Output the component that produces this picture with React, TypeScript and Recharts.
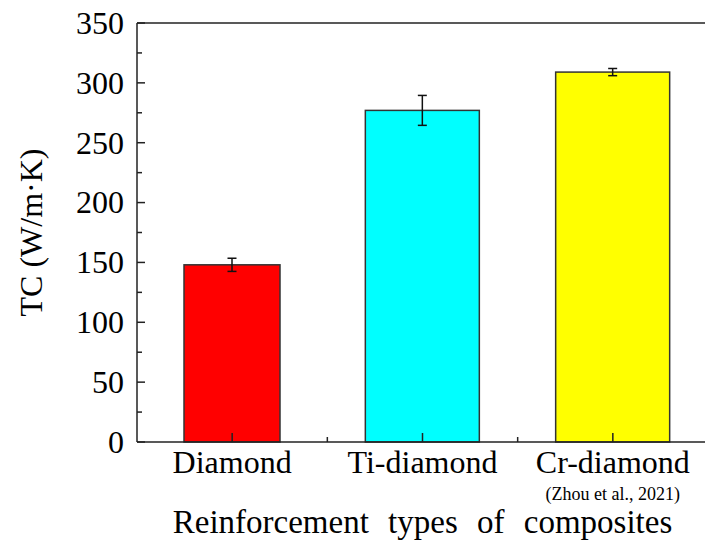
import React from 'react';
import { BarChart, Bar, XAxis, YAxis, Cell, ErrorBar, ReferenceLine } from 'recharts';

const categories = ['Diamond', 'Ti-diamond', 'Cr-diamond'];
const notes = ['', '', '(Zhou et al., 2021)'];
const tcValues = [148, 277, 309];
const tcErrors = [5.5, 12.5, 3];
const yTicks = [0, 25, 50, 75, 100, 125, 150, 175, 200, 225, 250, 275, 300, 325, 350];

const colors = ['#FF0000', '#00FFFF', '#FFFF00'];
const barWidths = [96, 114, 114];

const FONT = "'Liberation Serif', 'DejaVu Serif', serif";
const CHART_W = 720;
const CHART_H = 540;
const MARGIN = { top: 23, right: 12, bottom: 0, left: 0 };
const Y_AXIS_W = 137;
const X_AXIS_H = 98;
const PLOT_W = CHART_W - MARGIN.left - MARGIN.right - Y_AXIS_W;
const BAND = PLOT_W / categories.length;
const AXIS_COLOR = '#222';

const data = categories.map((name, i) => ({
  name,
  note: notes[i],
  tc: tcValues[i],
  err: tcErrors[i]
}));

const Y_TICK_MARGIN = 13;

const YTick = (props: any) => {
  const { x, y, payload } = props;
  const major = payload.value % 50 === 0;
  const axisX = x + Y_TICK_MARGIN;
  return (
    <g>
      <line x1={axisX} x2={axisX + (major ? 8 : 5)} y1={y} y2={y} stroke={AXIS_COLOR} strokeWidth={1.5} />
      {major && (
        <text x={x} y={y} dy="0.34em" textAnchor="end" fontFamily={FONT} fontSize={32} fill="#000">
          {payload.value}
        </text>
      )}
    </g>
  );
};

const XTick = (props: any) => {
  const { x, y, payload, index } = props;
  const note = notes[index];
  return (
    <g>
      <line x1={x} x2={x} y1={y} y2={y - 9} stroke={AXIS_COLOR} strokeWidth={1.5} />
      {index < categories.length - 1 && (
        <line x1={x + BAND / 2} x2={x + BAND / 2} y1={y} y2={y - 5} stroke={AXIS_COLOR} strokeWidth={1.5} />
      )}
      <text x={x} y={y + 31} textAnchor="middle" fontFamily={FONT} fontSize={32} fill="#000">
        {payload.value}
      </text>
      {note && (
        <text x={x} y={y + 58} textAnchor="middle" fontFamily={FONT} fontSize={18} fill="#000">
          {note}
        </text>
      )}
    </g>
  );
};

const BarShape = (props: any) => {
  const { x, y, width, height, fill, index } = props;
  const w = barWidths[index];
  const cx = x + width / 2;
  return (
    <rect x={cx - w / 2} y={y} width={w} height={height} fill={fill} stroke="#333" strokeWidth={1.5} />
  );
};

const YLabel = (props: any) => {
  const { viewBox } = props;
  const cx = viewBox.x + 31;
  const cy = viewBox.y + viewBox.height / 2;
  return (
    <text
      x={cx}
      y={cy}
      dy="0.35em"
      transform={`rotate(-90, ${cx}, ${cy})`}
      textAnchor="middle"
      fontFamily={FONT}
      fontSize={32}
      fill="#000"
    >
      TC (W/m·K)
    </text>
  );
};

const XLabel = (props: any) => {
  const { viewBox } = props;
  const cx = viewBox.x + viewBox.width / 2;
  return (
    <text
      x={cx}
      y={viewBox.y + 91}
      textAnchor="middle"
      fontFamily={FONT}
      fontSize={33}
      fill="#000"
      style={{ wordSpacing: '11px' }}
    >
      Reinforcement types of composites
    </text>
  );
};

export default function App() {
  return (
    <div style={{ position: 'absolute', left: 0, top: 0, width: 705, height: 540, overflow: 'hidden', background: '#fff' }}>
      <BarChart width={CHART_W} height={CHART_H} data={data} margin={MARGIN} barCategoryGap={0}>
        <ReferenceLine y={350} stroke={AXIS_COLOR} strokeWidth={1.5} />
        <Bar dataKey="tc" barSize={114} shape={<BarShape />} isAnimationActive={false}>
          {data.map((d, i) => (
            <Cell key={d.name} fill={colors[i]} />
          ))}
          <ErrorBar dataKey="err" width={4.5} stroke="#111" strokeWidth={1.5} isAnimationActive={false} />
        </Bar>
        <XAxis
          dataKey="name"
          height={X_AXIS_H}
          tickSize={0}
          tickMargin={0}
          tickLine={false}
          interval={0}
          stroke={AXIS_COLOR}
          strokeWidth={1.5}
          tick={<XTick />}
          label={{ content: <XLabel /> } as any}
        />
        <YAxis
          width={Y_AXIS_W}
          domain={[0, 350]}
          ticks={yTicks}
          interval={0}
          tickSize={0}
          tickMargin={Y_TICK_MARGIN}
          tickLine={false}
          stroke={AXIS_COLOR}
          strokeWidth={1.5}
          tick={<YTick />}
          label={{ content: <YLabel /> } as any}
        />
      </BarChart>
    </div>
  );
}
